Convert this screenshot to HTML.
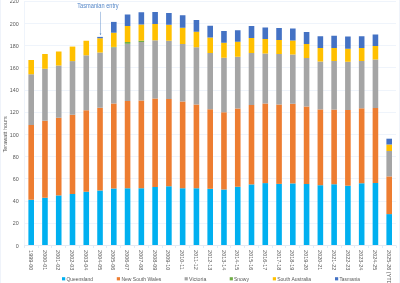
<!DOCTYPE html><html><head><meta charset="utf-8"><style>html,body{margin:0;padding:0;background:#fff;}svg{display:block;will-change:transform}text{font-family:"Liberation Sans",sans-serif;}</style></head><body>
<svg width="400" height="283" viewBox="0 0 400 283">
<rect x="0" y="0" width="400" height="283" fill="#fff"/>
<line x1="0.5" y1="0" x2="0.5" y2="283" stroke="#EFF3FA" stroke-width="1"/>
<line x1="399.5" y1="0" x2="399.5" y2="283" stroke="#EFF3FA" stroke-width="1"/>
<line x1="24" y1="223.50" x2="396" y2="223.50" stroke="#EFF4FB" stroke-width="1"/>
<line x1="24" y1="201.50" x2="396" y2="201.50" stroke="#EFF4FB" stroke-width="1"/>
<line x1="24" y1="178.50" x2="396" y2="178.50" stroke="#EFF4FB" stroke-width="1"/>
<line x1="24" y1="156.50" x2="396" y2="156.50" stroke="#EFF4FB" stroke-width="1"/>
<line x1="24" y1="134.50" x2="396" y2="134.50" stroke="#EFF4FB" stroke-width="1"/>
<line x1="24" y1="112.50" x2="396" y2="112.50" stroke="#EFF4FB" stroke-width="1"/>
<line x1="24" y1="90.50" x2="396" y2="90.50" stroke="#EFF4FB" stroke-width="1"/>
<line x1="24" y1="67.50" x2="396" y2="67.50" stroke="#EFF4FB" stroke-width="1"/>
<line x1="24" y1="45.50" x2="396" y2="45.50" stroke="#EFF4FB" stroke-width="1"/>
<line x1="24" y1="23.50" x2="396" y2="23.50" stroke="#EFF4FB" stroke-width="1"/>
<line x1="24" y1="1.50" x2="396" y2="1.50" stroke="#EFF4FB" stroke-width="1"/>
<line x1="24.5" y1="1" x2="24.5" y2="246" stroke="#EFF4FB" stroke-width="1"/>
<rect x="28.39" y="199.75" width="5.6" height="45.72" fill="#00B0F0"/>
<rect x="28.39" y="125.00" width="5.6" height="74.75" fill="#ED7D31"/>
<rect x="28.39" y="74.25" width="5.6" height="50.75" fill="#A5A5A5"/>
<rect x="28.39" y="60.00" width="5.6" height="14.25" fill="#FFC000"/>
<rect x="42.16" y="197.75" width="5.6" height="47.72" fill="#00B0F0"/>
<rect x="42.16" y="120.75" width="5.6" height="77.00" fill="#ED7D31"/>
<rect x="42.16" y="68.75" width="5.6" height="52.00" fill="#A5A5A5"/>
<rect x="42.16" y="54.00" width="5.6" height="14.75" fill="#FFC000"/>
<rect x="55.92" y="195.40" width="5.6" height="50.07" fill="#00B0F0"/>
<rect x="55.92" y="117.75" width="5.6" height="77.65" fill="#ED7D31"/>
<rect x="55.92" y="65.50" width="5.6" height="52.25" fill="#A5A5A5"/>
<rect x="55.92" y="51.50" width="5.6" height="14.00" fill="#FFC000"/>
<rect x="69.70" y="194.00" width="5.6" height="51.47" fill="#00B0F0"/>
<rect x="69.70" y="114.75" width="5.6" height="79.25" fill="#ED7D31"/>
<rect x="69.70" y="61.10" width="5.6" height="53.65" fill="#A5A5A5"/>
<rect x="69.70" y="46.60" width="5.6" height="14.50" fill="#FFC000"/>
<rect x="83.47" y="191.75" width="5.6" height="53.72" fill="#00B0F0"/>
<rect x="83.47" y="110.25" width="5.6" height="81.50" fill="#ED7D31"/>
<rect x="83.47" y="55.30" width="5.6" height="54.95" fill="#A5A5A5"/>
<rect x="83.47" y="40.75" width="5.6" height="14.55" fill="#FFC000"/>
<rect x="97.23" y="190.50" width="5.6" height="54.97" fill="#00B0F0"/>
<rect x="97.23" y="107.75" width="5.6" height="82.75" fill="#ED7D31"/>
<rect x="97.23" y="52.50" width="5.6" height="55.25" fill="#A5A5A5"/>
<rect x="97.23" y="38.25" width="5.6" height="14.25" fill="#FFC000"/>
<rect x="97.23" y="36.90" width="5.6" height="1.35" fill="#4472C4"/>
<rect x="111.00" y="188.50" width="5.6" height="56.97" fill="#00B0F0"/>
<rect x="111.00" y="103.50" width="5.6" height="85.00" fill="#ED7D31"/>
<rect x="111.00" y="47.40" width="5.6" height="56.10" fill="#A5A5A5"/>
<rect x="111.00" y="46.90" width="5.6" height="0.50" fill="#70AD47"/>
<rect x="111.00" y="32.70" width="5.6" height="14.20" fill="#FFC000"/>
<rect x="111.00" y="21.90" width="5.6" height="10.80" fill="#4472C4"/>
<rect x="124.77" y="188.25" width="5.6" height="57.22" fill="#00B0F0"/>
<rect x="124.77" y="101.00" width="5.6" height="87.25" fill="#ED7D31"/>
<rect x="124.77" y="43.80" width="5.6" height="57.20" fill="#A5A5A5"/>
<rect x="124.77" y="42.00" width="5.6" height="1.80" fill="#70AD47"/>
<rect x="124.77" y="26.00" width="5.6" height="16.00" fill="#FFC000"/>
<rect x="124.77" y="14.50" width="5.6" height="11.50" fill="#4472C4"/>
<rect x="138.54" y="188.25" width="5.6" height="57.22" fill="#00B0F0"/>
<rect x="138.54" y="100.50" width="5.6" height="87.75" fill="#ED7D31"/>
<rect x="138.54" y="42.00" width="5.6" height="58.50" fill="#A5A5A5"/>
<rect x="138.54" y="40.60" width="5.6" height="1.40" fill="#70AD47"/>
<rect x="138.54" y="24.50" width="5.6" height="16.10" fill="#FFC000"/>
<rect x="138.54" y="12.25" width="5.6" height="12.25" fill="#4472C4"/>
<rect x="152.31" y="187.00" width="5.6" height="58.47" fill="#00B0F0"/>
<rect x="152.31" y="98.50" width="5.6" height="88.50" fill="#ED7D31"/>
<rect x="152.31" y="40.30" width="5.6" height="58.20" fill="#A5A5A5"/>
<rect x="152.31" y="24.00" width="5.6" height="16.30" fill="#FFC000"/>
<rect x="152.31" y="12.00" width="5.6" height="12.00" fill="#4472C4"/>
<rect x="166.09" y="186.25" width="5.6" height="59.22" fill="#00B0F0"/>
<rect x="166.09" y="99.00" width="5.6" height="87.25" fill="#ED7D31"/>
<rect x="166.09" y="40.75" width="5.6" height="58.25" fill="#A5A5A5"/>
<rect x="166.09" y="24.75" width="5.6" height="16.00" fill="#FFC000"/>
<rect x="166.09" y="13.00" width="5.6" height="11.75" fill="#4472C4"/>
<rect x="179.85" y="188.25" width="5.6" height="57.22" fill="#00B0F0"/>
<rect x="179.85" y="101.50" width="5.6" height="86.75" fill="#ED7D31"/>
<rect x="179.85" y="44.00" width="5.6" height="57.50" fill="#A5A5A5"/>
<rect x="179.85" y="27.75" width="5.6" height="16.25" fill="#FFC000"/>
<rect x="179.85" y="15.25" width="5.6" height="12.50" fill="#4472C4"/>
<rect x="193.62" y="188.25" width="5.6" height="57.22" fill="#00B0F0"/>
<rect x="193.62" y="104.50" width="5.6" height="83.75" fill="#ED7D31"/>
<rect x="193.62" y="47.25" width="5.6" height="57.25" fill="#A5A5A5"/>
<rect x="193.62" y="31.75" width="5.6" height="15.50" fill="#FFC000"/>
<rect x="193.62" y="20.00" width="5.6" height="11.75" fill="#4472C4"/>
<rect x="207.39" y="188.80" width="5.6" height="56.67" fill="#00B0F0"/>
<rect x="207.39" y="109.25" width="5.6" height="79.55" fill="#ED7D31"/>
<rect x="207.39" y="53.00" width="5.6" height="56.25" fill="#A5A5A5"/>
<rect x="207.39" y="37.50" width="5.6" height="15.50" fill="#FFC000"/>
<rect x="207.39" y="25.75" width="5.6" height="11.75" fill="#4472C4"/>
<rect x="221.16" y="189.50" width="5.6" height="55.97" fill="#00B0F0"/>
<rect x="221.16" y="112.25" width="5.6" height="77.25" fill="#ED7D31"/>
<rect x="221.16" y="57.75" width="5.6" height="54.50" fill="#A5A5A5"/>
<rect x="221.16" y="42.75" width="5.6" height="15.00" fill="#FFC000"/>
<rect x="221.16" y="31.00" width="5.6" height="11.75" fill="#4472C4"/>
<rect x="234.94" y="186.75" width="5.6" height="58.72" fill="#00B0F0"/>
<rect x="234.94" y="108.50" width="5.6" height="78.25" fill="#ED7D31"/>
<rect x="234.94" y="56.75" width="5.6" height="51.75" fill="#A5A5A5"/>
<rect x="234.94" y="41.75" width="5.6" height="15.00" fill="#FFC000"/>
<rect x="234.94" y="30.25" width="5.6" height="11.50" fill="#4472C4"/>
<rect x="248.70" y="184.40" width="5.6" height="61.07" fill="#00B0F0"/>
<rect x="248.70" y="105.00" width="5.6" height="79.40" fill="#ED7D31"/>
<rect x="248.70" y="53.00" width="5.6" height="52.00" fill="#A5A5A5"/>
<rect x="248.70" y="38.00" width="5.6" height="15.00" fill="#FFC000"/>
<rect x="248.70" y="26.00" width="5.6" height="12.00" fill="#4472C4"/>
<rect x="262.47" y="183.10" width="5.6" height="62.37" fill="#00B0F0"/>
<rect x="262.47" y="103.50" width="5.6" height="79.60" fill="#ED7D31"/>
<rect x="262.47" y="53.50" width="5.6" height="50.00" fill="#A5A5A5"/>
<rect x="262.47" y="39.00" width="5.6" height="14.50" fill="#FFC000"/>
<rect x="262.47" y="27.50" width="5.6" height="11.50" fill="#4472C4"/>
<rect x="276.25" y="183.90" width="5.6" height="61.57" fill="#00B0F0"/>
<rect x="276.25" y="104.50" width="5.6" height="79.40" fill="#ED7D31"/>
<rect x="276.25" y="54.00" width="5.6" height="50.50" fill="#A5A5A5"/>
<rect x="276.25" y="40.00" width="5.6" height="14.00" fill="#FFC000"/>
<rect x="276.25" y="28.00" width="5.6" height="12.00" fill="#4472C4"/>
<rect x="290.01" y="183.40" width="5.6" height="62.07" fill="#00B0F0"/>
<rect x="290.01" y="103.75" width="5.6" height="79.65" fill="#ED7D31"/>
<rect x="290.01" y="54.50" width="5.6" height="49.25" fill="#A5A5A5"/>
<rect x="290.01" y="40.50" width="5.6" height="14.00" fill="#FFC000"/>
<rect x="290.01" y="28.50" width="5.6" height="12.00" fill="#4472C4"/>
<rect x="303.78" y="184.00" width="5.6" height="61.47" fill="#00B0F0"/>
<rect x="303.78" y="106.50" width="5.6" height="77.50" fill="#ED7D31"/>
<rect x="303.78" y="58.00" width="5.6" height="48.50" fill="#A5A5A5"/>
<rect x="303.78" y="44.00" width="5.6" height="14.00" fill="#FFC000"/>
<rect x="303.78" y="32.00" width="5.6" height="12.00" fill="#4472C4"/>
<rect x="317.56" y="185.20" width="5.6" height="60.27" fill="#00B0F0"/>
<rect x="317.56" y="109.40" width="5.6" height="75.80" fill="#ED7D31"/>
<rect x="317.56" y="61.50" width="5.6" height="47.90" fill="#A5A5A5"/>
<rect x="317.56" y="48.00" width="5.6" height="13.50" fill="#FFC000"/>
<rect x="317.56" y="36.25" width="5.6" height="11.75" fill="#4472C4"/>
<rect x="331.32" y="184.25" width="5.6" height="61.22" fill="#00B0F0"/>
<rect x="331.32" y="109.60" width="5.6" height="74.65" fill="#ED7D31"/>
<rect x="331.32" y="61.00" width="5.6" height="48.60" fill="#A5A5A5"/>
<rect x="331.32" y="48.00" width="5.6" height="13.00" fill="#FFC000"/>
<rect x="331.32" y="35.75" width="5.6" height="12.25" fill="#4472C4"/>
<rect x="345.09" y="185.70" width="5.6" height="59.77" fill="#00B0F0"/>
<rect x="345.09" y="110.00" width="5.6" height="75.70" fill="#ED7D31"/>
<rect x="345.09" y="61.75" width="5.6" height="48.25" fill="#A5A5A5"/>
<rect x="345.09" y="48.75" width="5.6" height="13.00" fill="#FFC000"/>
<rect x="345.09" y="36.50" width="5.6" height="12.25" fill="#4472C4"/>
<rect x="358.87" y="183.25" width="5.6" height="62.22" fill="#00B0F0"/>
<rect x="358.87" y="108.30" width="5.6" height="74.95" fill="#ED7D31"/>
<rect x="358.87" y="61.00" width="5.6" height="47.30" fill="#A5A5A5"/>
<rect x="358.87" y="48.00" width="5.6" height="13.00" fill="#FFC000"/>
<rect x="358.87" y="36.25" width="5.6" height="11.75" fill="#4472C4"/>
<rect x="372.63" y="183.00" width="5.6" height="62.47" fill="#00B0F0"/>
<rect x="372.63" y="108.00" width="5.6" height="75.00" fill="#ED7D31"/>
<rect x="372.63" y="59.50" width="5.6" height="48.50" fill="#A5A5A5"/>
<rect x="372.63" y="46.00" width="5.6" height="13.50" fill="#FFC000"/>
<rect x="372.63" y="34.50" width="5.6" height="11.50" fill="#4472C4"/>
<rect x="386.40" y="214.10" width="5.6" height="31.37" fill="#00B0F0"/>
<rect x="386.40" y="176.40" width="5.6" height="37.70" fill="#ED7D31"/>
<rect x="386.40" y="151.00" width="5.6" height="25.40" fill="#A5A5A5"/>
<rect x="386.40" y="144.50" width="5.6" height="6.50" fill="#FFC000"/>
<rect x="386.40" y="138.70" width="5.6" height="5.80" fill="#4472C4"/>
<line x1="24" y1="245.5" x2="396" y2="245.5" stroke="#E4EAF4" stroke-width="1"/>
<line x1="24.50" y1="245.5" x2="24.50" y2="248" stroke="#E4EAF4" stroke-width="1"/>
<line x1="38.50" y1="245.5" x2="38.50" y2="248" stroke="#E4EAF4" stroke-width="1"/>
<line x1="51.50" y1="245.5" x2="51.50" y2="248" stroke="#E4EAF4" stroke-width="1"/>
<line x1="65.50" y1="245.5" x2="65.50" y2="248" stroke="#E4EAF4" stroke-width="1"/>
<line x1="79.50" y1="245.5" x2="79.50" y2="248" stroke="#E4EAF4" stroke-width="1"/>
<line x1="93.50" y1="245.5" x2="93.50" y2="248" stroke="#E4EAF4" stroke-width="1"/>
<line x1="106.50" y1="245.5" x2="106.50" y2="248" stroke="#E4EAF4" stroke-width="1"/>
<line x1="120.50" y1="245.5" x2="120.50" y2="248" stroke="#E4EAF4" stroke-width="1"/>
<line x1="134.50" y1="245.5" x2="134.50" y2="248" stroke="#E4EAF4" stroke-width="1"/>
<line x1="148.50" y1="245.5" x2="148.50" y2="248" stroke="#E4EAF4" stroke-width="1"/>
<line x1="162.50" y1="245.5" x2="162.50" y2="248" stroke="#E4EAF4" stroke-width="1"/>
<line x1="175.50" y1="245.5" x2="175.50" y2="248" stroke="#E4EAF4" stroke-width="1"/>
<line x1="189.50" y1="245.5" x2="189.50" y2="248" stroke="#E4EAF4" stroke-width="1"/>
<line x1="203.50" y1="245.5" x2="203.50" y2="248" stroke="#E4EAF4" stroke-width="1"/>
<line x1="217.50" y1="245.5" x2="217.50" y2="248" stroke="#E4EAF4" stroke-width="1"/>
<line x1="230.50" y1="245.5" x2="230.50" y2="248" stroke="#E4EAF4" stroke-width="1"/>
<line x1="244.50" y1="245.5" x2="244.50" y2="248" stroke="#E4EAF4" stroke-width="1"/>
<line x1="258.50" y1="245.5" x2="258.50" y2="248" stroke="#E4EAF4" stroke-width="1"/>
<line x1="272.50" y1="245.5" x2="272.50" y2="248" stroke="#E4EAF4" stroke-width="1"/>
<line x1="285.50" y1="245.5" x2="285.50" y2="248" stroke="#E4EAF4" stroke-width="1"/>
<line x1="299.50" y1="245.5" x2="299.50" y2="248" stroke="#E4EAF4" stroke-width="1"/>
<line x1="313.50" y1="245.5" x2="313.50" y2="248" stroke="#E4EAF4" stroke-width="1"/>
<line x1="327.50" y1="245.5" x2="327.50" y2="248" stroke="#E4EAF4" stroke-width="1"/>
<line x1="341.50" y1="245.5" x2="341.50" y2="248" stroke="#E4EAF4" stroke-width="1"/>
<line x1="354.50" y1="245.5" x2="354.50" y2="248" stroke="#E4EAF4" stroke-width="1"/>
<line x1="368.50" y1="245.5" x2="368.50" y2="248" stroke="#E4EAF4" stroke-width="1"/>
<line x1="382.50" y1="245.5" x2="382.50" y2="248" stroke="#E4EAF4" stroke-width="1"/>
<line x1="396.50" y1="245.5" x2="396.50" y2="248" stroke="#E4EAF4" stroke-width="1"/>
<text transform="translate(18.7,247.62) scale(0.92,1)" x="0" y="0" font-size="5.8" fill="#595959" text-anchor="end">0</text>
<text transform="translate(18.7,225.42) scale(0.92,1)" x="0" y="0" font-size="5.8" fill="#595959" text-anchor="end">20</text>
<text transform="translate(18.7,203.22) scale(0.92,1)" x="0" y="0" font-size="5.8" fill="#595959" text-anchor="end">40</text>
<text transform="translate(18.7,181.02) scale(0.92,1)" x="0" y="0" font-size="5.8" fill="#595959" text-anchor="end">60</text>
<text transform="translate(18.7,158.82) scale(0.92,1)" x="0" y="0" font-size="5.8" fill="#595959" text-anchor="end">80</text>
<text transform="translate(18.7,136.62) scale(0.92,1)" x="0" y="0" font-size="5.8" fill="#595959" text-anchor="end">100</text>
<text transform="translate(18.7,114.42) scale(0.92,1)" x="0" y="0" font-size="5.8" fill="#595959" text-anchor="end">120</text>
<text transform="translate(18.7,92.22) scale(0.92,1)" x="0" y="0" font-size="5.8" fill="#595959" text-anchor="end">140</text>
<text transform="translate(18.7,70.02) scale(0.92,1)" x="0" y="0" font-size="5.8" fill="#595959" text-anchor="end">160</text>
<text transform="translate(18.7,47.82) scale(0.92,1)" x="0" y="0" font-size="5.8" fill="#595959" text-anchor="end">180</text>
<text transform="translate(18.7,25.62) scale(0.92,1)" x="0" y="0" font-size="5.8" fill="#595959" text-anchor="end">200</text>
<text transform="translate(18.7,3.42) scale(0.92,1)" x="0" y="0" font-size="5.8" fill="#595959" text-anchor="end">220</text>
<text transform="translate(28.79,250.1) rotate(90) scale(0.92,1)" x="0" y="0" font-size="6" fill="#595959">1999-00</text>
<text transform="translate(42.55,250.1) rotate(90) scale(0.92,1)" x="0" y="0" font-size="6" fill="#595959">2000-01</text>
<text transform="translate(56.32,250.1) rotate(90) scale(0.92,1)" x="0" y="0" font-size="6" fill="#595959">2001-02</text>
<text transform="translate(70.09,250.1) rotate(90) scale(0.92,1)" x="0" y="0" font-size="6" fill="#595959">2002-03</text>
<text transform="translate(83.86,250.1) rotate(90) scale(0.92,1)" x="0" y="0" font-size="6" fill="#595959">2003-04</text>
<text transform="translate(97.63,250.1) rotate(90) scale(0.92,1)" x="0" y="0" font-size="6" fill="#595959">2004-05</text>
<text transform="translate(111.40,250.1) rotate(90) scale(0.92,1)" x="0" y="0" font-size="6" fill="#595959">2005-06</text>
<text transform="translate(125.17,250.1) rotate(90) scale(0.92,1)" x="0" y="0" font-size="6" fill="#595959">2006-07</text>
<text transform="translate(138.94,250.1) rotate(90) scale(0.92,1)" x="0" y="0" font-size="6" fill="#595959">2007-08</text>
<text transform="translate(152.72,250.1) rotate(90) scale(0.92,1)" x="0" y="0" font-size="6" fill="#595959">2008-09</text>
<text transform="translate(166.49,250.1) rotate(90) scale(0.92,1)" x="0" y="0" font-size="6" fill="#595959">2009-10</text>
<text transform="translate(180.25,250.1) rotate(90) scale(0.92,1)" x="0" y="0" font-size="6" fill="#595959">2010-11</text>
<text transform="translate(194.03,250.1) rotate(90) scale(0.92,1)" x="0" y="0" font-size="6" fill="#595959">2011-12</text>
<text transform="translate(207.79,250.1) rotate(90) scale(0.92,1)" x="0" y="0" font-size="6" fill="#595959">2012-13</text>
<text transform="translate(221.56,250.1) rotate(90) scale(0.92,1)" x="0" y="0" font-size="6" fill="#595959">2013-14</text>
<text transform="translate(235.34,250.1) rotate(90) scale(0.92,1)" x="0" y="0" font-size="6" fill="#595959">2014-15</text>
<text transform="translate(249.10,250.1) rotate(90) scale(0.92,1)" x="0" y="0" font-size="6" fill="#595959">2015-16</text>
<text transform="translate(262.88,250.1) rotate(90) scale(0.92,1)" x="0" y="0" font-size="6" fill="#595959">2016-17</text>
<text transform="translate(276.65,250.1) rotate(90) scale(0.92,1)" x="0" y="0" font-size="6" fill="#595959">2017-18</text>
<text transform="translate(290.42,250.1) rotate(90) scale(0.92,1)" x="0" y="0" font-size="6" fill="#595959">2018-19</text>
<text transform="translate(304.19,250.1) rotate(90) scale(0.92,1)" x="0" y="0" font-size="6" fill="#595959">2019-20</text>
<text transform="translate(317.96,250.1) rotate(90) scale(0.92,1)" x="0" y="0" font-size="6" fill="#595959">2020-21</text>
<text transform="translate(331.73,250.1) rotate(90) scale(0.92,1)" x="0" y="0" font-size="6" fill="#595959">2021-22</text>
<text transform="translate(345.50,250.1) rotate(90) scale(0.92,1)" x="0" y="0" font-size="6" fill="#595959">2022-23</text>
<text transform="translate(359.27,250.1) rotate(90) scale(0.92,1)" x="0" y="0" font-size="6" fill="#595959">2023-24</text>
<text transform="translate(373.04,250.1) rotate(90) scale(0.92,1)" x="0" y="0" font-size="6" fill="#595959">2024-25</text>
<text transform="translate(386.81,250.1) rotate(90) scale(0.92,1)" x="0" y="0" font-size="6" fill="#595959">2025-26 (YTD)</text>
<text transform="translate(7.2,134.4) rotate(-90) scale(0.92,1)" x="0" y="0" font-size="6" fill="#595959" text-anchor="middle">Terawatt hours</text>
<text x="77.3" y="7.9" font-size="6.6" textLength="41.4" lengthAdjust="spacingAndGlyphs" fill="#5587C8">Tasmanian entry</text>
<line x1="100.5" y1="11.8" x2="100.5" y2="34" stroke="#5587C8" stroke-width="0.45"/>
<path d="M99.6,33.4 L101.4,33.4 L100.5,35.3 Z" fill="#5587C8"/>
<rect x="62" y="277.2" width="3.2" height="3.2" fill="#00B0F0"/>
<text x="66.4" y="280.9" font-size="5.6" textLength="26.6" lengthAdjust="spacingAndGlyphs" fill="#595959">Queensland</text>
<rect x="116.8" y="277.2" width="3.2" height="3.2" fill="#ED7D31"/>
<text x="121.4" y="280.9" font-size="5.6" textLength="39.8" lengthAdjust="spacingAndGlyphs" fill="#595959">New South Wales</text>
<rect x="184.6" y="277.2" width="3.2" height="3.2" fill="#A5A5A5"/>
<text x="189.0" y="280.9" font-size="5.6" textLength="17.3" lengthAdjust="spacingAndGlyphs" fill="#595959">Victoria</text>
<rect x="229.7" y="277.2" width="3.2" height="3.2" fill="#70AD47"/>
<text x="233.9" y="280.9" font-size="5.6" textLength="15.1" lengthAdjust="spacingAndGlyphs" fill="#595959">Snowy</text>
<rect x="272.8" y="277.2" width="3.2" height="3.2" fill="#FFC000"/>
<text x="277.2" y="280.9" font-size="5.6" textLength="33.8" lengthAdjust="spacingAndGlyphs" fill="#595959">South Australia</text>
<rect x="335" y="277.2" width="3.2" height="3.2" fill="#4472C4"/>
<text x="339.4" y="280.9" font-size="5.6" textLength="20.6" lengthAdjust="spacingAndGlyphs" fill="#595959">Tasmania</text>
</svg></body></html>
